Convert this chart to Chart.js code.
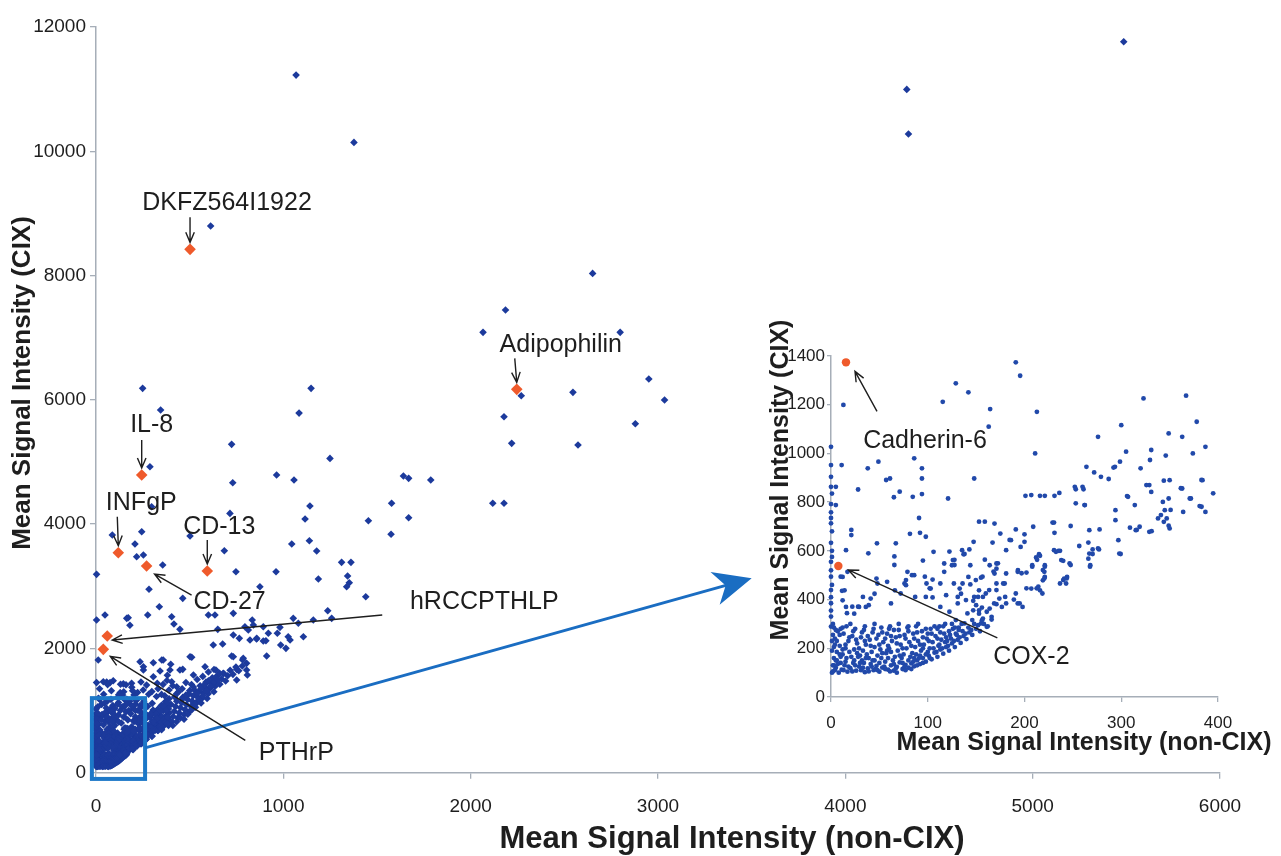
<!DOCTYPE html>
<html>
<head>
<meta charset="utf-8">
<script src="https://cdn.jsdelivr.net/npm/chart.js@4.4.1/dist/chart.umd.min.js"></script>
<style>
  body { margin: 0; background: #fff; }
  #wrap { position: relative; width: 1281px; height: 856px; overflow: hidden; }
  .box { position: absolute; }
</style>
</head>
<body>
<div id="wrap">
  <div class="box" style="left:0;top:0;width:1281px;height:856px"><canvas id="main"></canvas></div>
  <div class="box" style="left:740px;top:300px;width:541px;height:460px"><canvas id="inset"></canvas></div>
</div>
<script>
// ---- data (mean signal intensity: [non-CIX, CIX]) ----

// genes, outside the zoomed corner
const outerPoints = [
  [1068,11226],[1377,10143],[4328,10996],[4337,10277],[5486,11762],[612,8797],[2651,8035],
  [2186,7445],[2066,7086],[2798,7086],[249,6185],[1148,6185],[345,5836],[1084,5787],
  [2270,6066],[2546,6121],[2951,6335],[3035,5997],[2178,5728],[2879,5616],[2219,5300],
  [2573,5273],[1641,4774],[1669,4737],[1787,4710],[1578,4335],[2118,4335],[2178,4335],
  [1669,4103],[1575,3836],[724,5284],[288,4923],[730,4666],[964,4790],[1057,4710],
  [1249,5058],[1142,4291],[1116,4082],[1454,4055],[297,4280],[244,3878],[87,3825],
  [715,4173],[502,3809],[1045,3680],[1139,3733],[1178,3567],[208,3680],[217,3476],
  [253,3503],[356,3342],[685,3572],[747,3234],[961,3234],[1187,3117],[1311,3385],
  [1361,3385],[1343,3165],[1352,3057],[1338,2993],[1440,2832],[3,3192],[283,2951],
  [463,2806],[338,2671],[875,2993],[3,2457],[48,2537],[164,2484],[276,2537],[404,2510],
  [416,2393],[448,2307],[600,2537],[635,2537],[650,2307],[733,2564],[834,2457],[813,2296],
  [893,2349],[920,2243],[982,2339],[968,2243],[1053,2484],[1080,2404],[1107,2188],
  [1160,2457],[1237,2607],[1258,2484],[1036,2135],[1014,2001],[1026,2188],[733,2215],
  [765,2162],[858,2162],[907,2124],[986,2055],[626,2055],[351,1813],[511,1857],[724,1878],
  [783,1813],[804,1760],[808,1572],[751,1663],[911,1878],[235,1786],[306,1770],[399,1744],
  [253,1652],[342,1636],[463,1663],[12,1813],[3,1450],[57,1460],[92,1480],[190,1440],
  [160,1415],[306,1544],[327,1438],[381,1567],[404,1464],[431,1384],[172,2494],[181,2374],
  [676,2071],[795,2349],[840,2376],[822,2135],[857,2151],[893,2119],[253,1706],[359,1813],
  [395,1652],[448,1652],[502,1866],[520,1572],[582,1706],[640,1652],[679,1599],[733,1866],
  [786,1840],[804,1652],[751,1492],[39,1464],[75,1450],[146,1430]
];

// dense wedge and filled zoom box, main panel only
const wedgePoints = [
  [405,820],[412,905],[418,990],[425,1065],[431,1150],[437,885],[444,962],[451,1045],
  [457,1125],[463,1212],[470,935],[476,1012],[483,1094],[489,1178],[496,1266],[501,992],
  [507,1070],[513,1153],[519,1238],[526,1330],[531,1054],[537,1134],[543,1214],[549,1302],
  [556,1398],[561,1122],[568,1201],[574,1283],[581,1368],[587,1457],[593,1193],[599,1272],
  [606,1351],[613,1443],[621,1528],[629,1302],[636,1391],[643,1478],[651,1566],[661,1423],
  [671,1508],[682,1597],[692,1476],[703,1561],[716,1648],[731,1583],[747,1702],[762,1640],
  [781,1718],[298,1305],[331,1352],[358,1421],[379,1484],[281,1262],[252,1331],[222,1290],
  [203,1252],[148,1302],[121,1254],[82,1318],[41,1262],[19,1352],[62,1418],[131,1423],
  [270,1410],[240,1460],[350,1260],[390,1330],[410,1400],[430,1270],[460,1350],[480,1450],
  [510,1420],[540,1500],[570,1550],[600,1620],[630,1660],[30,1100],[60,1150],[90,1080],
  [120,1130],[150,1060],[180,1150],[210,1100],[240,1050],[20,1180],[75,1020],[255,1150],
  [270,620],[285,680],[300,720],[315,760],[330,800],[345,840],[360,880],[375,920],[390,960],
  [280,760],[300,820],[320,880],[340,940],[360,1000],[380,1060],[400,1100],[290,900],
  [310,960],[330,1020],[350,1080],[370,1140],[390,1190],[420,1220],[440,1300],[460,1180],
  [480,1250],[500,1320],[520,1380],[540,1280],[560,1350],[580,1420],[600,1480],[620,1400],
  [640,1540],[660,1600],[410,760],[430,820],[450,880],[470,860],[490,940],[510,1010],
  [530,1100],[550,1180],[570,1240],[590,1320],[610,1390],[630,1460],[650,1500],
  [20,380],[55,420],[95,360],[140,450],[180,520],[225,560],[250,600],[10,520],[45,560],
  [80,600],[115,640],[150,700],[190,740],[230,780],[255,840],[25,650],[60,700],[100,760],
  [135,800],[170,850],[210,900],[245,960],[15,780],[50,830],[85,880],[120,930],[160,980],
  [200,1030],[235,1080],[30,930],[65,980],[100,1030],[140,1060],[175,1000],[215,1160],
  [250,1110],[10,1060],[45,1120],[80,1180],[115,1100],[155,1170],[190,1080],[35,480],
  [70,530],[110,520],[160,600],[200,650],[240,700],[40,770],[75,740],[110,850],[150,900],
  [185,950],[225,1000],[20,880],[55,1040],[90,960],[130,1000],[170,1120],[205,850],[235,900]
];

// genes (0-400 x 0-1400)
const innerPoints = [
  [12.8,1199],[191,1374],[195.5,1319],[129,1288],[142,1251],[115.5,1212],[164.5,1182],
  [212.8,1171],[163,1110],[323,1226],[367,1237],[378,1130],[300,1116],[276,1068],[349,1082],
  [363,1068],[387,1027],[305,1007],[331,1014],[374,1000],[211,1000],[298.7,966],[293.5,945],
  [329.7,973],[346,991],[320,939],
  [0,1027],[0,952],[0,904],[0,863],[0,792],[0,758],[0,713],[0,633],[1,600],[0,555],[0,494],
  [0,439],[0,385],[0,330],[0,289],[1,680],[0,520],[1,460],[0,410],[0,355],[1,575],[0,735],[1,835],
  [11,952],[5,863],[5,788],[28,852],[38,939],[49,966],[57,891],[61,897],[65,820],[71,843],
  [86,980],[94,939],[94,897],[94,833],[121,815],[148,897],[153,720],[159,720],[84.5,822],
  [81.6,670],[91,735],[92,674],[98,658],[106,596],[21,686],[21,665],[15.5,603],[38.6,590],
  [47.5,631],[67,631],[65.5,577],[65.5,542],[58,473],[45,424],[39,377],[33,411],[28,371],
  [22,371],[16.5,344],[10,494],[11.4,436],[77.5,480],[77.5,459],[83.7,500],[97,494],
  [98.7,466],[102,446],[105,409],[95,560],[113,466],[127.6,563],[127.6,542],[122.4,597],
  [138,587],[143,606],[147.4,637],[119,418],[113,370],[122.4,350],[136,466],[134.4,424],
  [131,384],[139.5,398],[148,411],[149.7,480],[156.6,494],[163.5,439],[171,439],[153,356],
  [161,350],[166,329],[172.5,549],[168,515],[171,466],[179.5,466],[180,411],[184.6,645],
  [193.2,521],[141,343],[146,316],[138,302],[155,302],[161,288],[129,316],[132,275],
  [174,404],[176.6,370],[168.6,384],[181,384],[157,411],
  [201,826],[207,829],[216,826],[221,826],[231,826],[236,838],[252,863],[253,853],[260,863],
  [261,853],[253,795],[262,788],[264,945],[272,922],[279,904],[287,895],[292,942],[294,767],
  [294,726],[306,825],[314,788],[329,870],[331,842],[344,888],[350,890],[343,801],[345,767],
  [338,733],[344,719],[350,692],[363,856],[364,760],[372,815],[383,781],[387,760],[384,890],
  [395,836],[319,699],[315,685],[329,678],[277.6,688],[267,685],[229,716],[209,699],[191,688],
  [186,644],[276,610],[267,589],[266,568],[268,541],[297,644],[298,589],[246.6,548],[244,493],
  [241,486],[243,466],[231,674],[235,600],[238,562],[221,541],[219,521],[221,493],[219,479],
  [216,438],[207,445],[212,573],[215,586],[208,541],[196,616],[200,637],[181,603],[193,514],
  [181,507],[178,466],[191,425],[189,400],[193,384],[198,370],[169,712],[167,634],[175,671],
  [171,548],[171,527],[169,507],[159,564],[164,541],[155,490],[144,541],[142,493],[144,462],
  [135.5,603],[137,586],[126,562],[125,541],[127,466],[133,445],[131,411],[153,438],[152,411],
  [160,425],[147,395],[150,377],[156,367],[164,363],[171,381],[147,356],[153,342],[157,322],
  [117,548],[117,514],[105,482],[103,445],[98,411],[86,500],[79,514],[76,466],[72,425],
  [87,411],[66,438],[62,384],[47,486],[48,466],[41,404],[36,370],[29,370],[24,342],[14,438],
  [12,397],[15.5,370],[12,493],[17,514],
  [256.6,620],[266,634],[270.4,606],[270.4,587],[267.7,535],[277,606],[247.7,542],[240,559],
  [230.5,603],[232.5,596],[236.7,600],[216,580],[213,563],[208,535],[221,535],[220.5,514],
  [220.5,487],[202,511],[197,508],[202,446],[212.6,446],[214.3,453],[218.5,425],[236.7,466],
  [240,480],[243.6,487],[195,384],[230.5,716],[247.7,702],[200,668],[309,695],[316,686],
  [331.4,681],[299.4,587],[341,747],[347,733],[349,703],[351,768],[349,815],[326,870],
  [361.6,857],[370.8,815],[382.9,891],[381,784],[307,822],[262.4,788],
  // dense lower-left band
  [2,105],[5,120],[8,100],[11,112],[14,130],[17,104],[20,118],[23,140],[26,108],[29,125],
  [32,150],[35,102],[38,117],[41,135],[44,110],[47,128],[50,104],[53,121],[56,145],[59,112],
  [62,130],[65,108],[68,124],[71,142],[74,115],[77,132],[80,120],[83,138],[86,126],[89,150],
  [92,135],[95,160],[98,145],[101,170],[104,155],[107,182],[110,165],[113,195],[116,178],
  [119,205],[122,190],[125,220],[128,205],[131,235],[134,222],[137,250],[140,238],[143,265],
  [146,255],[150,280],[154,270],[158,300],[162,290],[166,318],
  [3,160],[6,185],[9,210],[4,240],[7,270],[2,300],[12,175],[15,200],[18,230],[13,260],
  [16,290],[21,165],[24,195],[27,220],[22,250],[25,280],[30,170],[33,190],[36,215],[31,245],
  [34,275],[39,160],[42,185],[45,205],[40,235],[43,265],[48,170],[51,195],[54,225],[49,255],
  [52,285],[57,180],[60,200],[63,230],[58,260],[61,290],[66,165],[69,190],[72,215],[67,245],
  [70,275],[75,175],[78,200],[81,225],[76,255],[79,285],[84,180],[87,205],[90,230],[85,260],
  [88,290],[93,190],[96,215],[99,240],[94,270],[102,200],[105,225],[108,250],[103,280],
  [111,210],[114,235],[117,260],[112,290],[120,230],[123,255],[126,280],[129,260],[132,285],
  [135,300],
  [1,100],[3,130],[6,150],[9,175],[10,140],[13,110],[16,160],[19,185],[25,130],[28,165],
  [31,110],[34,140],[37,175],[43,150],[46,115],[52,160],[55,125],[58,190],[61,105],[64,150],
  [67,118],[73,160],[76,125],[82,165],[85,145],[88,175],[91,160],[100,185],[95,200],[60,280],
  [70,300],[80,270],[90,300],[100,260],[110,280],[45,300],[35,290],[20,300],[10,280],[118,300],
  [4,110],[7,135],[10,165],[12,195],[15,145],[18,125],[22,105],[24,150],[27,180],[30,140],
  [33,120],[36,160],[39,105],[42,125],[45,150],[48,110],[50,140],[53,180],[56,115],[59,160],
  [62,185],[65,135],[68,100],[71,170],[74,140],[77,110],[80,150],[83,115],[86,160],[89,130],
  [92,170],[95,140],[98,175],[102,160],[106,200],[109,185],[112,215],[115,200],[118,225],
  [121,210],[124,240],[127,230],[130,255],[133,245],[136,270],[139,260],[142,285],[145,275],
  [148,300],[152,295],[156,315],
  [3,205],[6,230],[9,255],[12,285],[15,215],[19,245],[23,270],[26,235],[29,200],[32,265],
  [35,230],[38,250],[41,210],[44,280],[47,240],[50,215],[53,265],[56,240],[59,210],[62,250],
  [65,275],[68,220],[71,250],[74,200],[77,240],[80,290],[83,210],[86,240],[89,265],[92,215],
  [95,245],[98,280],[101,230],[104,260],[107,290],[110,240],[113,265],[116,290],[119,245],
  [122,270],[125,300],[128,285],[2,130],[5,150],[1,190],[4,215],[2,255],[5,275],[1,230],[3,285]
];

// highlighted genes
const mainNames = ['DKFZ564I1922','Adipophilin','IL-8','INFgP','CD-13','CD-27','hRCCPTHLP','PTHrP'];
const mainX     = [502, 2246, 244, 119, 594, 270, 60, 39];
const mainY     = [8422, 6169, 4790, 3540, 3245, 3326, 2200, 1985];
const insetNames = ['Cadherin-6','COX-2'];
const insetX     = [15.5, 7.6];
const insetY     = [1374, 538];

// axis ticks
const mainXTicks = [0, 1000, 2000, 3000, 4000, 5000, 6000];
const mainYTicks = [0, 2000, 4000, 6000, 8000, 10000, 12000];
const insetXTicks = [0, 100, 200, 300, 400];
const insetYTicks = [0, 200, 400, 600, 800, 1000, 1200, 1400];

// ---- styles ----
const BLUE = '#1c3a9c';
const INSET_BLUE = '#2149aa';
const ORANGE = '#ef5a2b';
const INK = '#1e1e1e';
const AXIS = '#a6aeb8';
const BOX_BLUE = '#1d78c8';
const FONT = '"Liberation Sans", Arial, Helvetica, sans-serif';

// label placement, pixel offsets from the gene's point: text centre, arrow tail, arrow tip
const mainNoteOffsets = {
  'DKFZ564I1922': { label: [37, -46], from: [0, -32], to: [0, -7] },
  'Adipophilin':  { label: [44, -44], from: [-2, -31], to: [0, -7] },
  'IL-8':         { label: [10, -50], from: [0, -35], to: [0, -7] },
  'INFgP':        { label: [23, -50], from: [-1, -36], to: [0, -7] },
  'CD-13':        { label: [12, -44], from: [0, -31], to: [0, -7] },
  'CD-27':        { label: [83, 36],  from: [45, 29], to: [8, 8] },
  'hRCCPTHLP':    { label: [377, -34], from: [275, -21], to: [5, 4] },
  'PTHrP':        { label: [193, 104], from: [142, 91], to: [7, 7] }
};
const insetNoteOffsets = {
  'Cadherin-6': { label: [79, 79], from: [31, 49], to: [9, 9] },
  'COX-2':      { label: [193, 91], from: [159, 72], to: [10, 4] }
};

// zoom box and arrow to the inset, in main-axis units
const zoomBox = { x0: -22, x1: 262, y0: -100, y1: 1200 };
const zoomArrow = { x0: 262, y0: 400, x1: 3500, y1: 3130 };

const toXY = pts => pts.map(p => ({ x: p[0], y: p[1] }));
const zipXY = (xs, ys) => xs.map((v, i) => ({ x: v, y: ys[i] }));

function drawNote(ctx, text, off, px, py) {
  ctx.font = '25px ' + FONT;
  ctx.fillStyle = INK;
  ctx.textAlign = 'center';
  ctx.textBaseline = 'middle';
  ctx.fillText(text, px + off.label[0], py + off.label[1]);
  const x0 = px + off.from[0], y0 = py + off.from[1];
  const x1 = px + off.to[0], y1 = py + off.to[1];
  const a = Math.atan2(y1 - y0, x1 - x0), h = 11, w = 0.4;
  ctx.strokeStyle = INK;
  ctx.lineWidth = 1.4;
  ctx.beginPath();
  ctx.moveTo(x0, y0);
  ctx.lineTo(x1, y1);
  ctx.moveTo(x1 - h * Math.cos(a - w), y1 - h * Math.sin(a - w));
  ctx.lineTo(x1, y1);
  ctx.lineTo(x1 - h * Math.cos(a + w), y1 - h * Math.sin(a + w));
  ctx.stroke();
}

function drawTitle(ctx, text, size, cx, cy, rotate) {
  ctx.save();
  ctx.translate(cx, cy);
  if (rotate) ctx.rotate(-Math.PI / 2);
  ctx.font = 'bold ' + size + 'px ' + FONT;
  ctx.fillStyle = INK;
  ctx.textAlign = 'center';
  ctx.textBaseline = 'middle';
  ctx.fillText(text, 0, 0);
  ctx.restore();
}

function axisOptions(min, max, ticks, fontSize, tickLen, pad, fitSize, isX) {
  return {
    type: 'linear', min: min, max: max,
    afterBuildTicks: s => { s.ticks = ticks.map(v => ({ value: v })); },
    ticks: { color: INK, font: { family: FONT, size: fontSize }, padding: pad, maxRotation: 0,
             callback: v => String(v) },
    grid: { display: true, drawOnChartArea: false, drawTicks: true, tickLength: tickLen, color: AXIS, lineWidth: 1.3 },
    border: { display: true, color: AXIS, width: 1.5 },
    afterFit: s => { if (isX) s.height = fitSize; else s.width = fitSize; }
  };
}

// main panel overlay: zoom box, arrow, labels, axis titles
const mainOverlay = {
  id: 'mainOverlay',
  afterDatasetsDraw(chart) {
    const { ctx } = chart;
    const x = chart.scales.x, y = chart.scales.y;
    ctx.save();
    // zoom box
    ctx.strokeStyle = BOX_BLUE;
    ctx.lineWidth = 4;
    const bx0 = x.getPixelForValue(zoomBox.x0), bx1 = x.getPixelForValue(zoomBox.x1);
    const by0 = y.getPixelForValue(zoomBox.y0), by1 = y.getPixelForValue(zoomBox.y1);
    ctx.strokeRect(bx0, by1, bx1 - bx0, by0 - by1);
    // blue arrow
    const ax0 = x.getPixelForValue(zoomArrow.x0), ay0 = y.getPixelForValue(zoomArrow.y0);
    const ax1 = x.getPixelForValue(zoomArrow.x1), ay1 = y.getPixelForValue(zoomArrow.y1);
    const a = Math.atan2(ay1 - ay0, ax1 - ax0), c = Math.cos(a), s = Math.sin(a);
    ctx.strokeStyle = '#1a6dc2';
    ctx.fillStyle = '#1a6dc2';
    ctx.lineWidth = 3;
    ctx.beginPath();
    ctx.moveTo(ax0, ay0);
    ctx.lineTo(ax1 - 24 * c, ay1 - 24 * s);
    ctx.stroke();
    const bx = ax1 - 38 * c, by = ay1 - 38 * s;
    ctx.beginPath();
    ctx.moveTo(ax1, ay1);
    ctx.lineTo(bx - 17 * s, by + 17 * c);
    ctx.lineTo(ax1 - 27 * c, ay1 - 27 * s);
    ctx.lineTo(bx + 17 * s, by - 17 * c);
    ctx.closePath();
    ctx.fill();
    // gene labels
    mainNames.forEach((n, i) => {
      drawNote(ctx, n, mainNoteOffsets[n], x.getPixelForValue(mainX[i]), y.getPixelForValue(mainY[i]));
    });
    // axis titles
    drawTitle(ctx, 'Mean Signal Intensity (non-CIX)', 31, 732, 839, false);
    drawTitle(ctx, 'Mean Signal Intensity (CIX)', 26, 23, 383, true);
    ctx.restore();
  }
};

const insetOverlay = {
  id: 'insetOverlay',
  afterDatasetsDraw(chart) {
    const { ctx } = chart;
    const x = chart.scales.x, y = chart.scales.y;
    ctx.save();
    insetNames.forEach((n, i) => {
      drawNote(ctx, n, insetNoteOffsets[n], x.getPixelForValue(insetX[i]), y.getPixelForValue(insetY[i]));
    });
    drawTitle(ctx, 'Mean Signal Intensity (non-CIX)', 25, 344, 443, false);
    drawTitle(ctx, 'Mean Signal Intensity (CIX)', 25, 41, 180, true);
    ctx.restore();
  }
};

const mainChart = new Chart(document.getElementById('main'), {
  type: 'scatter',
  data: {
    datasets: [
      { data: toXY(outerPoints.concat(wedgePoints, innerPoints)), pointStyle: 'rectRot', pointRadius: 3.8,
        backgroundColor: BLUE, borderWidth: 0, clip: false },
      { data: zipXY(mainX, mainY), pointStyle: 'rectRot', pointRadius: 5.8,
        backgroundColor: ORANGE, borderWidth: 0, clip: false }
    ]
  },
  options: {
    responsive: true, maintainAspectRatio: false, animation: false, devicePixelRatio: 1,
    events: [],
    layout: { padding: { top: 27, right: 61, left: 0, bottom: 0 } },
    plugins: { legend: { display: false }, tooltip: { enabled: false } },
    scales: {
      x: axisOptions(0, 6000, mainXTicks, 19, 6, 17, 83.3, true),
      y: axisOptions(0, 12000, mainYTicks, 19, 6, 4, 96, false)
    }
  },
  plugins: [mainOverlay]
});

const insetChart = new Chart(document.getElementById('inset'), {
  type: 'scatter',
  data: {
    datasets: [
      { data: toXY(innerPoints), pointStyle: 'circle', pointRadius: 2.4,
        backgroundColor: INSET_BLUE, borderWidth: 0, clip: false },
      { data: zipXY(insetX, insetY), pointStyle: 'circle', pointRadius: 4.2,
        backgroundColor: ORANGE, borderWidth: 0, clip: false }
    ]
  },
  options: {
    responsive: true, maintainAspectRatio: false, animation: false, devicePixelRatio: 1,
    events: [],
    layout: { padding: { top: 56, right: 63, left: 0, bottom: 0 } },
    plugins: { legend: { display: false }, tooltip: { enabled: false } },
    scales: {
      x: axisOptions(0, 400, insetXTicks, 17, 5, 11, 63, true),
      y: axisOptions(0, 1400, insetYTicks, 17, 4, 2, 91, false)
    }
  },
  plugins: [insetOverlay]
});
</script>
</body>
</html>
